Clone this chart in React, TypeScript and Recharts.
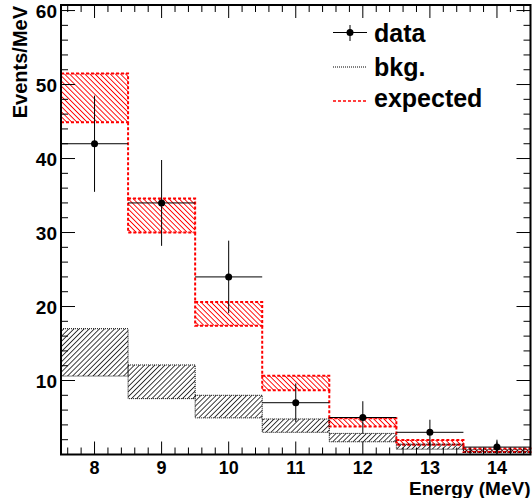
import React from "react";
import {
  ComposedChart,
  XAxis,
  YAxis,
  Scatter,
  ErrorBar,
  Line,
  ReferenceArea,
} from "recharts";

// bin centres (MeV)
const bins = [8, 9, 10, 11, 12, 13, 14];

// measured events per MeV and their errors
const dataCounts = [42, 34, 24, 7, 5, 3, 1];
const dataErrors = [6.5, 5.8, 4.9, 2.6, 2.2, 1.7, 1.0];

// expected band (upper / lower edge)
const expHigh = [51.5, 34.6, 20.6, 10.65, 4.9, 1.95, 0.82];
const expLow = [44.9, 30.0, 17.4, 8.7, 3.8, 1.32, 0.35];

// background band (upper / lower edge)
const bkgHigh = [17.0, 12.1, 8.0, 4.8, 2.85, 1.4, 0.65];
const bkgLow = [10.6, 7.55, 4.95, 3.0, 1.72, 0.72, 0.3];

const yMajor = [10, 20, 30, 40, 50, 60];
const xMajor = [8, 9, 10, 11, 12, 13, 14];

const W = 532;
const H = 498;
const PLOT_L = 61;
const PLOT_R = 530.5;
const PLOT_T = 5;
const PLOT_B = 454.5;
const Y_MAX = 60.75;

const FONT = "'Liberation Sans', Arial, Helvetica, sans-serif";
const RED = "#ff0000";

const range = (from: number, to: number, step: number) => {
  const out: number[] = [];
  for (let v = from; v <= to + 1e-9; v += step) out.push(Math.round(v * 10) / 10);
  return out;
};
const yTicks = range(0, 60, 2);
const xTicks = range(7.6, 14.4, 0.2);

const points = bins.map((b, i) => ({ x: b, y: dataCounts[i], ex: 0.5, ey: dataErrors[i] }));

// vertical pieces of the expected histogram between neighbouring bands
const expLinks = bins.slice(0, -1).map((b, i) => [
  { x: b + 0.5, y: expLow[i] },
  { x: b + 0.5, y: expHigh[i + 1] },
]);

// eslint-disable-next-line @typescript-eslint/no-explicit-any
function YTick({ y, payload }: any) {
  const v = payload.value as number;
  const major = yMajor.includes(v);
  const len = major ? 14 : 7;
  return (
    <g>
      <line x1={PLOT_L} x2={PLOT_L + len} y1={y} y2={y} stroke="#000" strokeWidth={1} />
      <line x1={PLOT_R - len} x2={PLOT_R} y1={y} y2={y} stroke="#000" strokeWidth={1} />
      {major && (
        <text
          x={PLOT_L - 4}
          y={y + 7}
          textAnchor="end"
          fontFamily={FONT}
          fontWeight="bold"
          fontSize={19}
          fill="#000"
        >
          {v}
        </text>
      )}
    </g>
  );
}

// eslint-disable-next-line @typescript-eslint/no-explicit-any
function XTick({ x, payload }: any) {
  const v = payload.value as number;
  const major = xMajor.includes(v);
  const len = major ? 13 : 7;
  return (
    <g>
      <line x1={x} x2={x} y1={PLOT_B} y2={PLOT_B - len} stroke="#000" strokeWidth={1} />
      <line x1={x} x2={x} y1={PLOT_T} y2={PLOT_T + len} stroke="#000" strokeWidth={1} />
      {major && (
        <text
          x={x}
          y={474}
          textAnchor="middle"
          fontFamily={FONT}
          fontWeight="bold"
          fontSize={18}
          fill="#000"
        >
          {v}
        </text>
      )}
    </g>
  );
}

function LegendBox() {
  const txt = { fontFamily: FONT, fontWeight: "bold" as const, fontSize: 25, fill: "#000" };
  return (
    <svg
      width={W}
      height={H}
      style={{ position: "absolute", left: 0, top: 0, pointerEvents: "none" }}
    >
      <line x1={333} x2={367} y1={32.5} y2={32.5} stroke="#000" />
      <line x1={350} x2={350} y1={25} y2={41} stroke="#000" />
      <circle cx={350} cy={32.5} r={3.5} fill="#000" />
      <text x={374} y={41.5} {...txt}>data</text>

      <line x1={333} x2={366} y1={67} y2={67} stroke="#000" strokeDasharray="1 1" />
      <text x={374} y={75.5} {...txt}>bkg.</text>

      <line x1={333} x2={366} y1={101} y2={101} stroke={RED} strokeWidth={1.5} strokeDasharray="3 2" />
      <text x={374} y={106.5} {...txt}>expected</text>

      <text
        x={PLOT_R}
        y={495}
        textAnchor="end"
        fontFamily={FONT}
        fontWeight="bold"
        fontSize={19}
      >
        Energy (MeV)
      </text>
      <text
        transform="translate(27, 6) rotate(-90)"
        textAnchor="end"
        fontFamily={FONT}
        fontWeight="bold"
        fontSize={20}
      >
        Events/MeV
      </text>
    </svg>
  );
}

export default function App() {
  return (
    <div style={{ position: "absolute", left: 0, top: 0, width: W, height: H, background: "#fff" }}>
      <ComposedChart
        width={W}
        height={H}
        margin={{ top: PLOT_T, right: W - PLOT_R, left: 0, bottom: 0 }}
      >
        <defs>
          <pattern id="redHatch" width={3.6} height={3.6} patternUnits="userSpaceOnUse" patternTransform="rotate(-45)">
            <line x1={0} y1={0} x2={0} y2={3.6} stroke={RED} strokeWidth={1.8} />
          </pattern>
          <pattern id="blackHatch" width={3.6} height={3.6} patternUnits="userSpaceOnUse" patternTransform="rotate(45)">
            <line x1={0} y1={0} x2={0} y2={3.6} stroke="#000" strokeWidth={1.5} />
          </pattern>
        </defs>
        <XAxis
          dataKey="x"
          type="number"
          domain={[7.5, 14.5]}
          allowDataOverflow
          ticks={xTicks}
          interval={0}
          tick={<XTick />}
          tickLine={false}
          axisLine={false}
          height={H - PLOT_B}
        />
        <YAxis
          type="number"
          domain={[0, Y_MAX]}
          allowDataOverflow
          ticks={yTicks}
          interval={0}
          tick={<YTick />}
          tickLine={false}
          axisLine={false}
          width={PLOT_L}
        />

        {bins.map((b, i) => (
          <ReferenceArea
            key={`e${b}`}
            x1={b - 0.5}
            x2={b + 0.5}
            y1={expLow[i]}
            y2={expHigh[i]}
            fill="url(#redHatch)"
            fillOpacity={1}
            stroke={RED}
            strokeWidth={2}
            strokeDasharray="3 2"
          />
        ))}
        {bins.map((b, i) => (
          <ReferenceArea
            key={`b${b}`}
            x1={b - 0.5}
            x2={b + 0.5}
            y1={bkgLow[i]}
            y2={bkgHigh[i]}
            fill="url(#blackHatch)"
            fillOpacity={1}
            stroke="#000"
            strokeWidth={1}
            strokeDasharray="1 1"
          />
        ))}

        {expLinks.map((seg, i) => (
          <Line
            key={`l${i}`}
            data={seg}
            dataKey="y"
            type="linear"
            stroke={RED}
            strokeWidth={2}
            strokeDasharray="3 2"
            dot={false}
            activeDot={false}
            isAnimationActive={false}
          />
        ))}

        <Scatter
          data={points}
          dataKey="y"
          isAnimationActive={false}
          shape={(p: any) => <circle cx={p.cx} cy={p.cy} r={3.5} fill="#000" />}
        >
          <ErrorBar dataKey="ey" direction="y" width={0} stroke="#000" strokeWidth={1} isAnimationActive={false} />
          <ErrorBar dataKey="ex" direction="x" width={0} stroke="#000" strokeWidth={1} isAnimationActive={false} />
        </Scatter>

        <ReferenceArea
          x1={7.5}
          x2={14.5}
          y1={0}
          y2={Y_MAX}
          fill="none"
          stroke="#000"
          strokeWidth={2}
        />
      </ComposedChart>
      <LegendBox />
    </div>
  );
}
